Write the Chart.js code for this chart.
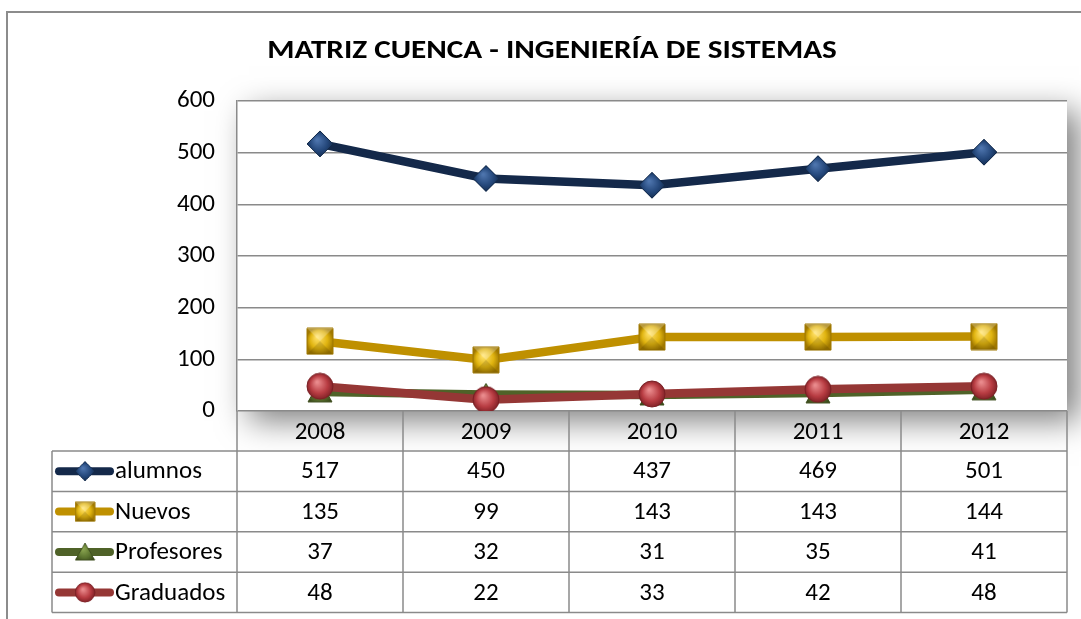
<!DOCTYPE html>
<html>
<head>
<meta charset="utf-8">
<script src="https://cdn.jsdelivr.net/npm/chart.js@4.4.0/dist/chart.umd.min.js"></script>
<style>
    html, body { margin: 0; padding: 0; background: #fff; }
    #wrap { position: relative; width: 1081px; height: 619px; }
</style>
</head>
<body>
<div id="wrap"><canvas id="myChart" width="1081" height="619"></canvas></div>
<script>
var chartTitle = 'MATRIZ CUENCA - INGENIERÍA DE SISTEMAS';
var years = ['2008', '2009', '2010', '2011', '2012'];
var alumnos = [517, 450, 437, 469, 501];
var nuevos = [135, 99, 143, 143, 144];
var profesores = [37, 32, 31, 35, 41];
var graduados = [48, 22, 33, 42, 48];
var yTicks = [0, 100, 200, 300, 400, 500, 600];

var FONT = "Carlito, 'Liberation Sans Narrow', 'Liberation Sans', sans-serif";
var GRID = '#8a8a8a';

// marker images with a bit of shading, like the Excel ones
function makeMarker(shape, light, mid, dark, size) {
    var c = document.createElement('canvas');
    c.width = size; c.height = size;
    var g = c.getContext('2d');
    var h = size / 2;
    var grad = g.createRadialGradient(h * 0.8, h * 0.7, 1, h, h, h);
    grad.addColorStop(0, light);
    grad.addColorStop(0.6, mid);
    grad.addColorStop(1, dark);
    g.fillStyle = grad;
    g.strokeStyle = dark;
    g.lineWidth = 1;
    g.beginPath();
    if (shape == 'diamond') {
        g.moveTo(h, 1); g.lineTo(size - 1, h); g.lineTo(h, size - 1); g.lineTo(1, h);
    } else if (shape == 'square') {
        g.rect(1, 1, size - 2, size - 2);
    } else if (shape == 'triangle') {
        g.moveTo(h, 2); g.lineTo(size - 1, size - 3); g.lineTo(1, size - 3);
    } else {
        g.arc(h, h, h - 1, 0, Math.PI * 2);
    }
    g.closePath();
    g.fill();
    g.stroke();
    if (shape == 'square') {
        // bevel look
        g.fillStyle = 'rgba(255,255,255,0.25)';
        g.beginPath(); g.moveTo(1, 1); g.lineTo(size - 1, 1); g.lineTo(h, h); g.closePath(); g.fill();
        g.fillStyle = 'rgba(0,0,0,0.12)';
        g.beginPath(); g.moveTo(1, size - 1); g.lineTo(size - 1, size - 1); g.lineTo(h, h); g.closePath(); g.fill();
    }
    return c;
}

var series = [
    { label: 'alumnos', data: alumnos, color: '#14294a', marker: makeMarker('diamond', '#4d74ad', '#24477a', '#132a4a', 28) },
    { label: 'Nuevos', data: nuevos, color: '#bf9000', marker: makeMarker('square', '#ffe066', '#e0b410', '#a07800', 28) },
    { label: 'Profesores', data: profesores, color: '#4f6228', marker: makeMarker('triangle', '#8aa450', '#5d7630', '#3c4c1c', 26) },
    { label: 'Graduados', data: graduados, color: '#953735', marker: makeMarker('circle', '#e98a8c', '#b83c42', '#7a1f24', 28) }
];

var frameAndTable = {
    id: 'frameAndTable',
    beforeDraw: function (chart) {
        var ctx = chart.ctx;
        var a = chart.chartArea;
        ctx.save();
        // outer frame
        ctx.strokeStyle = '#8c8c8c';
        ctx.lineWidth = 2;
        ctx.beginPath();
        ctx.moveTo(7, chart.height);
        ctx.lineTo(7, 12);
        ctx.lineTo(chart.width, 12);
        ctx.stroke();
        // soft shadow behind plot area
        ctx.shadowColor = 'rgba(0,0,0,0.5)';
        ctx.shadowBlur = 30;
        ctx.shadowOffsetX = 12;
        ctx.shadowOffsetY = 10;
        ctx.fillStyle = '#fff';
        ctx.fillRect(a.left, a.top, a.right - a.left, a.bottom - a.top);
        ctx.restore();
        ctx.save();
        ctx.fillStyle = '#fff';
        ctx.fillRect(a.left, a.top, a.right - a.left, a.bottom - a.top);
        // title, slightly widened like the original
        ctx.fillStyle = '#000';
        ctx.font = 'bold 26px ' + FONT;
        ctx.textAlign = 'center';
        ctx.textBaseline = 'middle';
        ctx.translate(552, 51);
        ctx.scale(1.2, 1);
        ctx.fillText(chartTitle, 0, 0);
        ctx.restore();
    },
    afterDraw: function (chart) {
        var ctx = chart.ctx;
        var a = chart.chartArea;
        var x = chart.scales.x;
        var headH = 40, rowH = 40.4;
        var legendLeft = 52;
        var colW = (a.right - a.left) / years.length;
        var tableBottom = a.bottom + headH + rowH * series.length;

        ctx.save();
        // row backgrounds (header stays transparent to show the shadow)
        ctx.fillStyle = '#fff';
        ctx.fillRect(legendLeft, a.bottom + headH, a.right - legendLeft, rowH * series.length);

        ctx.strokeStyle = GRID;
        ctx.lineWidth = 1.5;
        ctx.beginPath();
        // vertical lines
        for (var i = 0; i <= years.length; i++) {
            var vx = a.left + colW * i;
            ctx.moveTo(vx, a.bottom);
            ctx.lineTo(vx, tableBottom);
        }
        ctx.moveTo(legendLeft, a.bottom + headH);
        ctx.lineTo(legendLeft, tableBottom);
        // horizontal lines
        for (var r = 0; r <= series.length; r++) {
            var hy = a.bottom + headH + rowH * r;
            ctx.moveTo(legendLeft, hy);
            ctx.lineTo(a.right, hy);
        }
        ctx.stroke();

        ctx.fillStyle = '#000';
        ctx.font = '25px ' + FONT;
        ctx.textBaseline = 'middle';
        ctx.textAlign = 'center';
        for (var j = 0; j < years.length; j++) {
            ctx.fillText(years[j], x.getPixelForValue(j), a.bottom + headH / 2 + 2);
        }
        for (var s = 0; s < series.length; s++) {
            var cy = a.bottom + headH + rowH * s + rowH / 2 + 1;
            ctx.textAlign = 'center';
            for (var k = 0; k < years.length; k++) {
                ctx.fillText(String(series[s].data[k]), x.getPixelForValue(k), cy);
            }
            // legend key
            ctx.strokeStyle = series[s].color;
            ctx.lineWidth = 8;
            ctx.lineCap = 'round';
            ctx.beginPath();
            ctx.moveTo(59, cy - 1);
            ctx.lineTo(110, cy - 1);
            ctx.stroke();
            var m = series[s].marker;
            var ms = 21;
            ctx.drawImage(m, 85 - ms / 2, cy - 1 - ms / 2, ms, ms);
            ctx.textAlign = 'left';
            ctx.fillText(series[s].label, 115, cy);
        }
        ctx.restore();
    }
};

var datasets = series.map(function (s) {
    return {
        label: s.label,
        data: s.data,
        borderColor: s.color,
        backgroundColor: s.color,
        borderWidth: 8.5,
        pointStyle: s.marker,
        pointRadius: 14,
        pointHoverRadius: 14,
        tension: 0
    };
});
// Graduados on top of Profesores
datasets[0].order = 1;
datasets[1].order = 2;
datasets[2].order = 4;
datasets[3].order = 3;

new Chart(document.getElementById('myChart'), {
    type: 'line',
    data: { labels: years, datasets: datasets },
    options: {
        responsive: false,
        animation: false,
        layout: { autoPadding: false, padding: { top: 101, right: 14, bottom: 208, left: 0 } },
        plugins: {
            legend: { display: false },
            tooltip: { enabled: false },
            title: { display: false }
        },
        scales: {
            x: { display: false, offset: true },
            y: {
                min: 0,
                max: 600,
                afterBuildTicks: function (scale) {
                    scale.ticks = yTicks.map(function (v) { return { value: v }; });
                },
                afterFit: function (scale) { scale.width = 237; },
                ticks: { color: '#000', font: { family: FONT, size: 25 }, padding: 22 },
                grid: { color: GRID, lineWidth: 1.5, drawTicks: false },
                border: { color: GRID, width: 1.5 }
            }
        }
    },
    plugins: [frameAndTable]
});
</script>
</body>
</html>
